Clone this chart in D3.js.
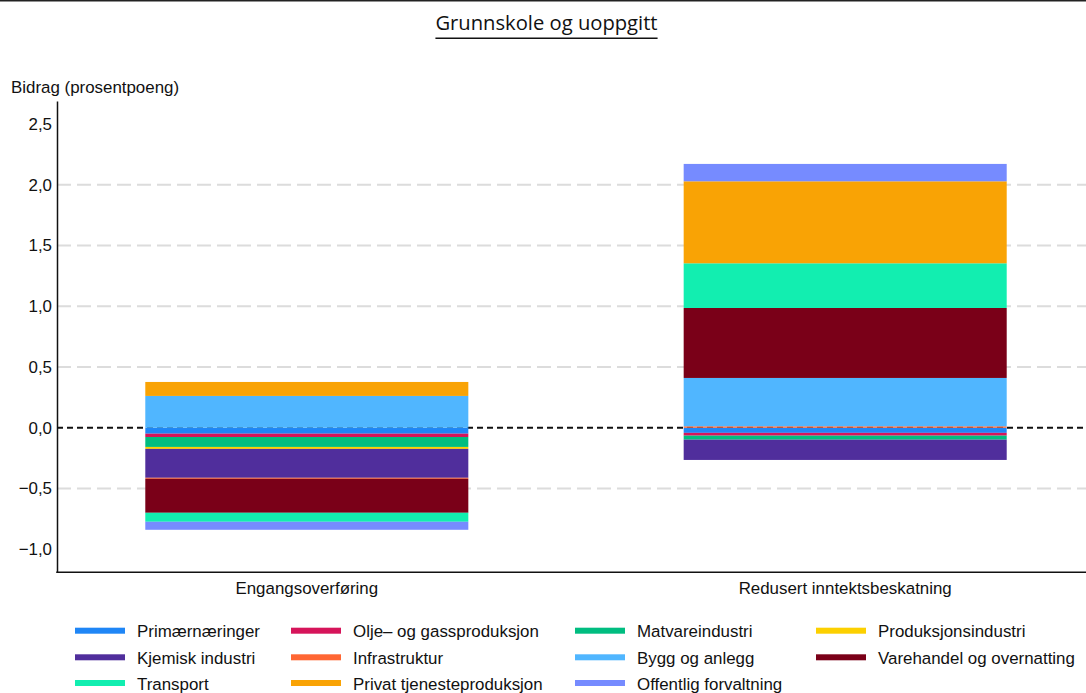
<!DOCTYPE html>
<html>
<head>
<meta charset="utf-8">
<script src="https://cdn.jsdelivr.net/npm/d3@7"></script>
<style>
  html, body { margin: 0; padding: 0; background: #fff; }
  svg { display: block; }
  text { font-family: "Liberation Sans", Arial, sans-serif; fill: #111; }
</style>
</head>
<body>
<svg id="chart" width="1086" height="693"></svg>
<script>
// Categories on the x axis
const categories = ["Engangsoverføring", "Redusert inntektsbeskatning"];

// Industries, in stacking / legend order
const industries = [
  "Primærnæringer", "Olje\u2013 og gassproduksjon", "Matvareindustri", "Produksjonsindustri",
  "Kjemisk industri", "Infrastruktur", "Bygg og anlegg", "Varehandel og overnatting",
  "Transport", "Privat tjenesteproduksjon", "Offentlig forvaltning"
];

const industryColors = [
  "#1f86f6", "#d6145a", "#00bd80", "#fcd000",
  "#502e9c", "#ff6633", "#50b6ff", "#7a0018",
  "#12eeb0", "#f9a305", "#768bff"
];

// Contribution (percentage points) per industry, one array per category
const engangsoverforing = [-0.049, -0.027, -0.082, -0.016, -0.238, -0.008, 0.262, -0.280, -0.074, 0.115, -0.066];
const redusertInntektsbeskatning = [-0.042, -0.023, -0.033, 0.000, -0.167, 0.012, 0.398, 0.576, 0.368, 0.675, 0.143];

const yTicks = [-1.0, -0.5, 0.0, 0.5, 1.0, 1.5, 2.0, 2.5];
const gridTicks = [-0.5, 0.5, 1.0, 1.5, 2.0];

const titleText = "Grunnskole og uoppgitt";
const yAxisTitle = "Bidrag (prosentpoeng)";

// Build rows for the stack layout
const seriesValues = [engangsoverforing, redusertInntektsbeskatning];
const rows = categories.map((c, ci) => {
  const r = { category: c };
  industries.forEach((name, i) => { r[name] = seriesValues[ci][i]; });
  return r;
});

const W = 1086, H = 693;
const FS = "16.9px";
const svg = d3.select("#chart");

const nb = d3.formatLocale({ decimal: ",", thousands: " ", grouping: [3], currency: ["", ""], minus: "\u2212" });
const fmt = nb.format(".1f");

const y = d3.scaleLinear().domain([-1.19, 2.69]).range([572.3, 101]);
const x = d3.scaleBand().domain(categories).range([57, 1095]).paddingInner(0.4).paddingOuter(0.164);
const color = d3.scaleOrdinal().domain(industries).range(industryColors);

// Top border
svg.append("line").attr("x1", 0).attr("x2", W).attr("y1", 0.75).attr("y2", 0.75)
  .attr("stroke", "#222").attr("stroke-width", 1.5);

// Title with underline
const title = svg.append("text")
  .attr("x", 546.5).attr("y", 30)
  .attr("text-anchor", "middle")
  .style("font-family", "'Open Sans', sans-serif")
  .style("font-size", "20.2px")
  .text(titleText);
const tb = title.node().getBBox();
svg.append("line")
  .attr("x1", tb.x).attr("x2", tb.x + tb.width)
  .attr("y1", 38.3).attr("y2", 38.3)
  .attr("stroke", "#111").attr("stroke-width", 1.4);

// Axis title
svg.append("text").attr("x", 11).attr("y", 93)
  .style("font-size", FS).text(yAxisTitle);

// Gridlines
svg.append("g").selectAll("line").data(gridTicks).join("line")
  .attr("x1", 57).attr("x2", W)
  .attr("y1", d => y(d)).attr("y2", d => y(d))
  .attr("stroke", "#dcdcdc").attr("stroke-width", 2)
  .attr("stroke-dasharray", "14,6");

// Zero line
svg.append("line").attr("x1", 57).attr("x2", W)
  .attr("y1", y(0)).attr("y2", y(0))
  .attr("stroke", "#111").attr("stroke-width", 2)
  .attr("stroke-dasharray", "6,4");

// Stacked bars (diverging around zero)
const stack = d3.stack().keys(industries).offset(d3.stackOffsetDiverging);
const layers = stack(rows);

svg.append("g").selectAll("g").data(layers).join("g")
  .attr("fill", d => color(d.key))
  .selectAll("rect").data(d => d).join("rect")
  .attr("x", d => x(d.data.category))
  .attr("width", x.bandwidth())
  .attr("y", d => y(Math.max(d[0], d[1])))
  .attr("height", d => Math.abs(y(d[0]) - y(d[1])));

// Y axis
const yAxis = svg.append("g").attr("transform", "translate(57,0)")
  .call(d3.axisLeft(y).tickValues(yTicks).tickFormat(fmt).tickSize(0).tickPadding(5));
yAxis.select(".domain").attr("stroke", "#111").attr("stroke-width", 1.5);
yAxis.selectAll("text").style("font-size", FS)
  .style("font-family", "'Liberation Sans', Arial, sans-serif").attr("fill", "#111");

// X axis
svg.append("line").attr("x1", 56.25).attr("x2", W).attr("y1", 572.3).attr("y2", 572.3)
  .attr("stroke", "#111").attr("stroke-width", 1.5);
const xAxis = svg.append("g").attr("transform", "translate(0,572.3)")
  .call(d3.axisBottom(x).tickSize(0).tickPadding(10));
xAxis.select(".domain").remove();
xAxis.selectAll("text").style("font-size", FS)
  .style("font-family", "'Liberation Sans', Arial, sans-serif").attr("fill", "#111");

// Legend: 4 columns, 3 rows, filled row by row
const colX = [75, 291, 575, 816];
const rowY = [630.7, 657.3, 683];
const legend = svg.append("g").selectAll("g").data(industries).join("g")
  .attr("transform", (d, i) => `translate(${colX[i % 4]},${rowY[Math.floor(i / 4)]})`);
legend.append("rect").attr("x", 0).attr("y", -3).attr("width", 50).attr("height", 6)
  .attr("fill", d => color(d));
legend.append("text").attr("x", 62).attr("y", 6.5)
  .style("font-size", FS).text(d => d);
</script>
</body>
</html>
